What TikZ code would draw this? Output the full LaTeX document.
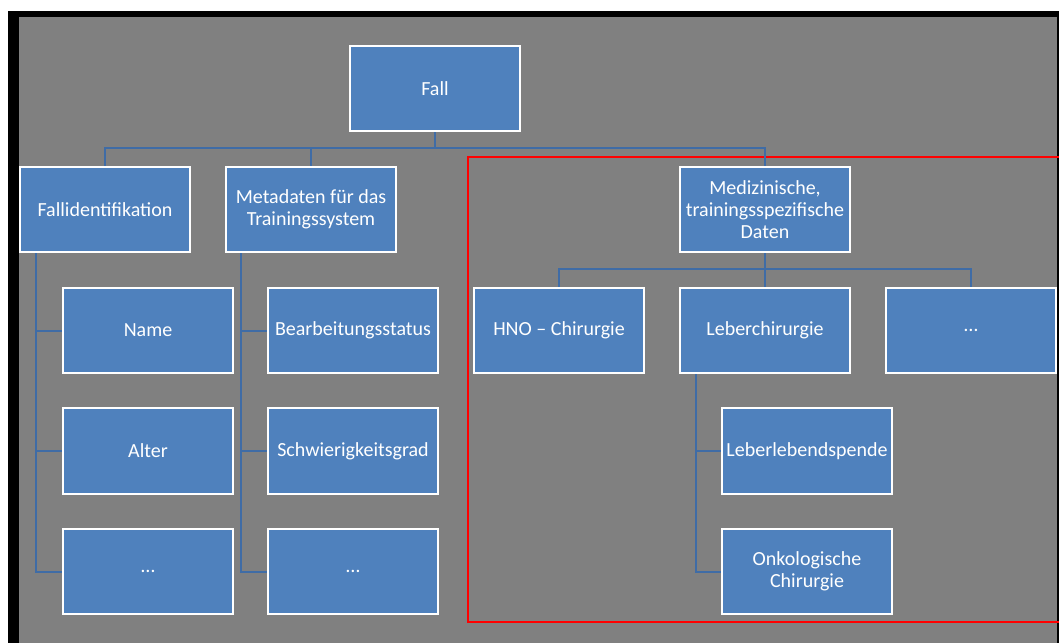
\documentclass[tikz,border=0pt]{standalone}
\usepackage{fontspec}
\setmainfont{Carlito}
\usetikzlibrary{calc}
\definecolor{bg}{HTML}{808080}
\definecolor{boxfill}{HTML}{4F81BD}
\definecolor{conn}{HTML}{3F6CA6}
\tikzset{
  cell/.style={draw=white, line width=1.2pt, fill=boxfill, minimum width=170pt, minimum height=85pt,
    inner sep=2pt, align=center, text=white, font=\fontsize{20}{22}\selectfont},
  link/.style={draw=conn, line width=2pt},
}
\begin{document}
\begin{tikzpicture}[x=1pt,y=-1pt]
\useasboundingbox (0,0) rectangle (1059,643);
\fill[white] (0,0) rectangle (1059,643);
\fill[black] (8,11) rectangle (1059,643);
\fill[bg] (19,17) rectangle (1057,643);

% red frame
\draw[red, line width=1.3pt] (1060,157) -- (468,157) -- (468,622) -- (1060,622);

% level 0 and 1
\node[cell] (fall) at (435,88.5) {Fall};
\node[cell] (fallid) at (105,209.5) {Fallidentifikation};
\node[cell] (meta) at (311,209.5) {Metadaten für das\\Trainingssystem};
\node[cell] (med) at (765,209.5) {Medizinische,\\trainingsspezifische\\Daten};

% level 2
\node[cell] (hno) at (559,330.5) {HNO – Chirurgie};
\node[cell] (leber) at (765,330.5) {Leberchirurgie};
\node[cell] (more3) at (971,330.5) {…};

\node[cell] (name) at (148,330.5) {Name};
\node[cell] (alter) at (148,451) {Alter};
\node[cell] (more1) at (148,571.5) {…};

\node[cell] (bearb) at (353,330.5) {Bearbeitungsstatus};
\node[cell] (schw) at (353,451) {Schwierigkeitsgrad};
\node[cell] (more2) at (353,571.5) {…};

\node[cell] (lls) at (807,451) {Leberlebendspende};
\node[cell] (onko) at (807,571.5) {Onkologische\\Chirurgie};

% connectors
\coordinate (busA) at (435,148);
\coordinate (busB) at (765,269);
\draw[link] (fall.south) -- (busA);
\draw[link] (fallid.north) -- (fallid.north |- busA) -- (med.north |- busA) -- (med.north);
\draw[link] (meta.north) -- (meta.north |- busA);

\draw[link] (med.south) -- (busB);
\draw[link] (hno.north) -- (hno.north |- busB) -- (more3.north |- busB) -- (more3.north);
\draw[link] (leber.north) -- (busB);

\coordinate (tA) at ($(fallid.south west)+(17,0)$);
\draw[link] (tA) |- (more1.west);
\draw[link] (tA |- name.west) -- (name.west);
\draw[link] (tA |- alter.west) -- (alter.west);

\coordinate (tB) at ($(meta.south west)+(16,0)$);
\draw[link] (tB) |- (more2.west);
\draw[link] (tB |- bearb.west) -- (bearb.west);
\draw[link] (tB |- schw.west) -- (schw.west);

\coordinate (tC) at ($(leber.south west)+(17,0)$);
\draw[link] (tC) |- (onko.west);
\draw[link] (tC |- lls.west) -- (lls.west);

% redraw box borders on top of connectors
\foreach \n in {fall,fallid,meta,med,hno,leber,more3,name,alter,more1,bearb,schw,more2,lls,onko}{
  \draw[white, line width=1.2pt] (\n.south west) rectangle (\n.north east);
}
\end{tikzpicture}
\end{document}
